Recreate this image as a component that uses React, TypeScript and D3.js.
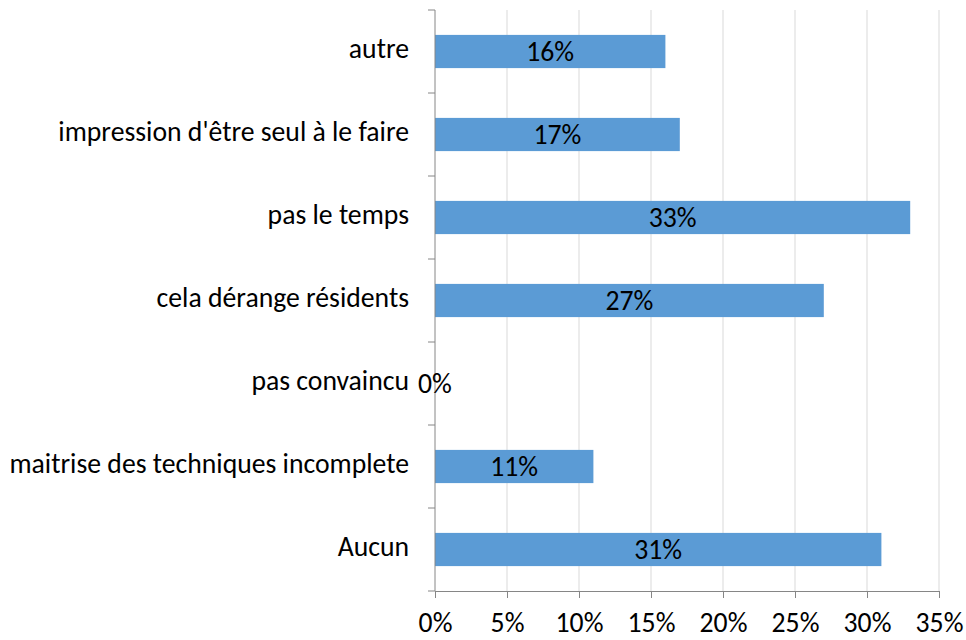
import { useRef, useEffect } from "react";
import * as d3 from "d3";

const categories = [
  "autre",
  "impression d'être seul à le faire",
  "pas le temps",
  "cela dérange résidents",
  "pas convaincu",
  "maitrise des techniques incomplete",
  "Aucun",
];
const values = [16, 17, 33, 27, 0, 11, 31];
const xTicks = [0, 5, 10, 15, 20, 25, 30, 35];

const App = () => {
  const container = useRef<SVGSVGElement | null>(null);

  useEffect(() => {
    const width = 966;
    const height = 640;
    const margins = { t: 10, b: 49, l: 435, r: 27 };
    const font = "Carlito, Calibri, 'Open Sans', sans-serif";
    const fontSize = 27.7;

    const svg = d3.select(container.current);
    svg.selectAll("*").remove();

    const xScale = d3
      .scaleLinear()
      .domain([0, 35])
      .range([margins.l, width - margins.r]);

    const yScale = d3
      .scaleBand()
      .domain(categories)
      .range([margins.t, height - margins.b])
      .paddingInner(0.6)
      .paddingOuter(0.3);

    const bottom = height - margins.b;

    // gridlines
    svg
      .append("g")
      .selectAll("line")
      .data(xTicks.slice(1))
      .join("line")
      .attr("x1", (d) => xScale(d))
      .attr("x2", (d) => xScale(d))
      .attr("y1", margins.t)
      .attr("y2", bottom)
      .attr("stroke", "#d9d9d9")
      .attr("stroke-width", 1);

    // bars
    svg
      .append("g")
      .selectAll("rect")
      .data(values)
      .join("rect")
      .attr("x", xScale(0))
      .attr("y", (d, i) => yScale(categories[i])!)
      .attr("width", (d) => xScale(d) - xScale(0))
      .attr("height", yScale.bandwidth())
      .attr("fill", "#5b9bd5");

    // bottom axis
    const xAxis = d3
      .axisBottom(xScale)
      .tickValues(xTicks)
      .tickSize(7)
      .tickSizeOuter(0)
      .tickPadding(14)
      .tickFormat((d) => `${d}%`);

    const xg = svg
      .append("g")
      .attr("transform", `translate(0,${bottom})`)
      .call(xAxis);
    xg.select(".domain").attr("stroke", "#868686");
    xg.selectAll(".tick line").attr("stroke", "#868686");
    xg.selectAll(".tick text")
      .attr("font-family", font)
      .attr("font-size", fontSize)
      .attr("fill", "#000");

    // left axis with category boundary ticks
    const boundaries = d3
      .range(categories.length + 1)
      .map((i) => margins.t + i * ((bottom - margins.t) / categories.length));
    svg
      .append("line")
      .attr("x1", xScale(0))
      .attr("x2", xScale(0))
      .attr("y1", margins.t)
      .attr("y2", bottom)
      .attr("stroke", "#868686");
    svg
      .append("g")
      .selectAll("line")
      .data(boundaries)
      .join("line")
      .attr("x1", xScale(0) - 7)
      .attr("x2", xScale(0))
      .attr("y1", (d) => d)
      .attr("y2", (d) => d)
      .attr("stroke", "#868686");

    svg
      .append("g")
      .selectAll("text")
      .data(categories)
      .join("text")
      .attr("x", xScale(0) - 26)
      .attr("y", (d) => yScale(d)! + yScale.bandwidth() / 2)
      .attr("dy", "0.22em")
      .attr("text-anchor", "end")
      .attr("font-family", font)
      .attr("font-size", fontSize)
      .attr("fill", "#000")
      .text((d) => d);

    // value labels
    svg
      .append("g")
      .selectAll("text")
      .data(values)
      .join("text")
      .attr("x", (d) => (xScale(0) + xScale(d)) / 2)
      .attr("y", (d, i) => yScale(categories[i])! + yScale.bandwidth() / 2)
      .attr("dy", "0.35em")
      .attr("text-anchor", "middle")
      .attr("font-family", font)
      .attr("font-size", fontSize)
      .attr("fill", "#000")
      .text((d) => `${d}%`);
  });

  return (
    <svg
      ref={container}
      width={966}
      height={640}
      style={{ position: "absolute", left: 0, top: 0, background: "#fff" }}
    ></svg>
  );
};

export default App;
